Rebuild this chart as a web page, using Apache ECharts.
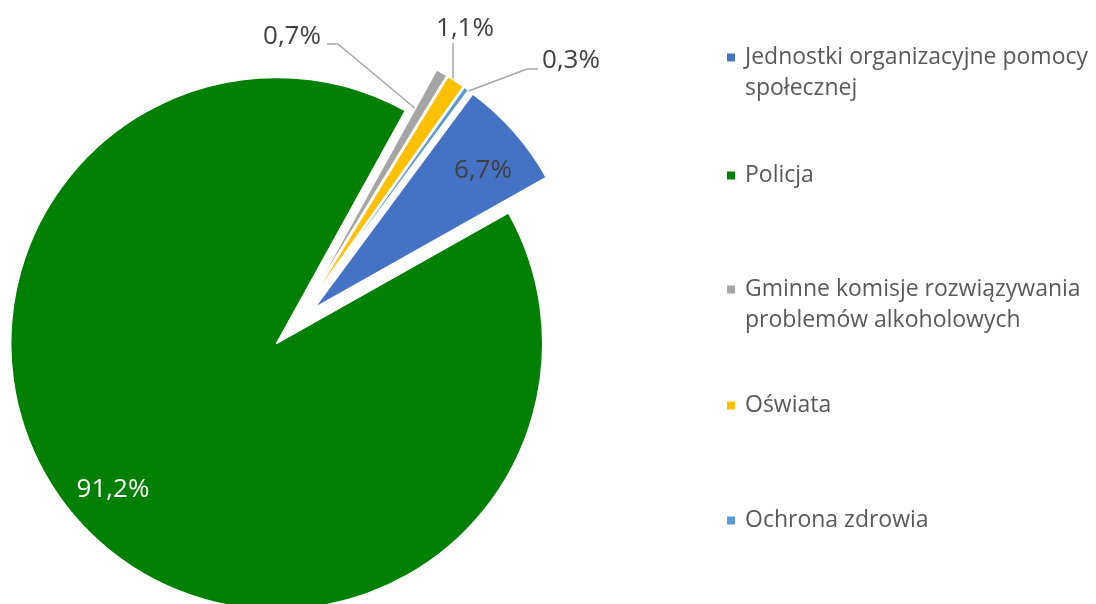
<!DOCTYPE html>
<html>
<head>
<meta charset="utf-8">
<script src="https://cdn.jsdelivr.net/npm/echarts@6/dist/echarts.min.js"></script>
<style>
  html, body { margin: 0; padding: 0; background: #fff; }
  #chart { width: 1096px; height: 604px; }
</style>
</head>
<body>
<div id="chart"></div>
<script>
  // dane
  const categories = [
    'Jednostki organizacyjne pomocy społecznej',
    'Policja',
    'Gminne komisje rozwiązywania problemów alkoholowych',
    'Oświata',
    'Ochrona zdrowia',
  ];
  const legendLabels = [
    '\nJednostki organizacyjne pomocy\nspołecznej',
    'Policja',
    '\nGminne komisje rozwiązywania\nproblemów alkoholowych',
    'Oświata',
    'Ochrona zdrowia',
  ];
  const shares = [6.7, 91.2, 0.7, 1.1, 0.3];
  const colors = ['#4472C4', '#008000', '#A5A5A5', '#FFC000', '#5B9BD5'];

  // położenie etykiet, linii odniesienia i legendy
  const labelSpots = [[483, 171], [113, 490], [292, 37], [465, 29], [571, 61]];
  const insideLabels = [true, true, false, false, false];
  const leaderSide = [null, null, 'right', 'bottom', 'left'];
  const leaderReach = [0, 0, 0.83, 0.98, 0.98];
  const legendTops = [11, 160, 243, 390, 505];

  const pieCenter = [295, 325];
  const pieRadius = 266;
  const pieStart = 53.5;
  const explode = 26;

  const fmt = (v) => v.toFixed(1).replace('.', ',') + '%';

  // kąty środkowe wycinków (od godziny 12, zgodnie z ruchem wskazówek)
  const total = shares.reduce((a, b) => a + b, 0);
  let acc = 0;
  const midAngles = shares.map((v) => {
    const m = 90 - pieStart + ((acc + v / 2) / total) * 360;
    acc += v;
    return (m * Math.PI) / 180;
  });

  const chart = echarts.init(document.getElementById('chart'));

  const legends = categories.map((name, i) => ({
    orient: 'vertical',
    left: 725,
    top: legendTops[i],
    padding: 0,
    icon: 'rect',
    itemWidth: 10,
    itemHeight: 10,
    selectedMode: false,
    data: [name],
    formatter: () => legendLabels[i],
    textStyle: {
      fontFamily: 'Open Sans',
      fontSize: 23,
      lineHeight: 31,
      color: '#595959',
      padding: [0, 0, 0, 4],
    },
  }));

  const labelLayout = (p) => {
    const i = p.dataIndex;
    const r = p.labelRect;
    const sx = Math.sin(midAngles[i]);
    const sy = -Math.cos(midAngles[i]);
    const ox = explode * sx;
    const oy = explode * sy;
    const spot = labelSpots[i];
    const res = {
      dx: spot[0] - ox - (r.x + r.width / 2),
      dy: spot[1] - oy - (r.y + r.height / 2),
    };
    const side = leaderSide[i];
    if (side) {
      // punkty w układzie przed wysunięciem wycinka
      const ax = pieCenter[0] + pieRadius * leaderReach[i] * sx;
      const ay = pieCenter[1] + pieRadius * leaderReach[i] * sy;
      const hw = r.width / 2;
      let pts;
      if (side === 'right') {
        pts = [[spot[0] + hw + 6 - ox, spot[1] + 7 - oy], [spot[0] + hw + 17 - ox, spot[1] + 7 - oy], [ax, ay]];
      } else if (side === 'left') {
        pts = [[spot[0] - hw - 4 - ox, spot[1] + 8 - oy], [spot[0] - hw - 15 - ox, spot[1] + 8 - oy], [ax, ay]];
      } else {
        pts = [[ax, spot[1] + 14 - oy], [ax, ay]];
      }
      res.labelLinePoints = pts;
    }
    return res;
  };

  const config = {
    animation: false,
    color: colors,
    legend: legends,
    series: [
      {
        type: 'pie',
        center: pieCenter,
        radius: pieRadius,
        startAngle: pieStart,
        clockwise: true,
        selectedMode: 'multiple',
        selectedOffset: explode,
        avoidLabelOverlap: false,
        itemStyle: {
          borderColor: '#fff',
          borderWidth: 1.5,
        },
        select: {
          itemStyle: { borderColor: '#fff', borderWidth: 1.5 },
        },
        emphasis: { disabled: true },
        label: {
          fontFamily: 'Open Sans',
          fontSize: 26,
          color: '#404040',
          formatter: (p) => fmt(p.value),
        },
        labelLine: {
          lineStyle: { color: '#A6A6A6', width: 1.5 },
          length: 15,
          length2: 10,
        },
        labelLayout: labelLayout,
        data: categories.map((name, i) => ({
          name: name,
          value: shares[i],
          selected: true,
          label: insideLabels[i]
            ? { position: 'inside', color: i === 1 ? '#fff' : '#404040' }
            : { position: 'outside' },
          labelLine: { show: !insideLabels[i] },
        })),
      },
    ],
  };

  chart.setOption(config);
</script>
</body>
</html>
